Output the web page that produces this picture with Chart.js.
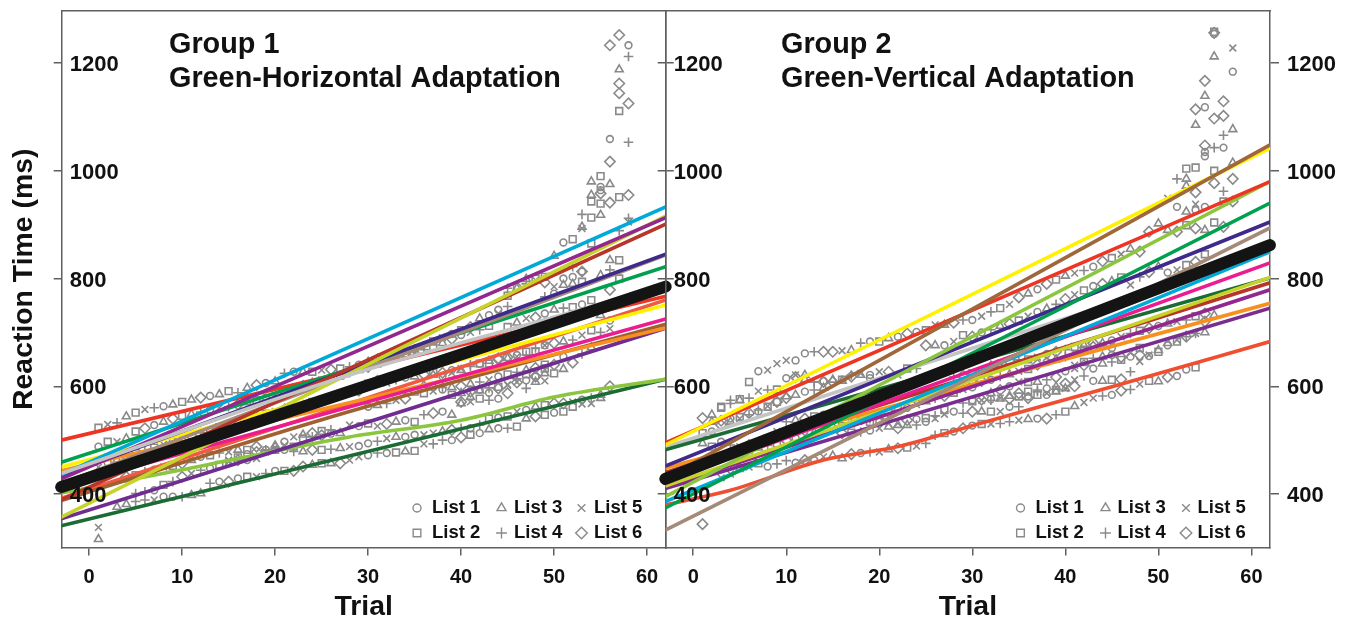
<!DOCTYPE html>
<html>
<head>
<meta charset="utf-8">
<title>Reaction time by trial</title>
<script src="https://cdn.jsdelivr.net/npm/chart.js@4/dist/chart.umd.js"></script>
<style>
  html, body { margin: 0; padding: 0; background: #fff; }
  #wrap { position: relative; width: 1350px; height: 621px; overflow: hidden; }
  canvas { position: absolute; top: 0; }
  #leftPanel { left: 0; }
  #rightPanel { left: 640px; }
</style>
</head>
<body>
<div id="wrap">
  <canvas id="leftPanel" width="690" height="621"></canvas>
  <canvas id="rightPanel" width="710" height="621"></canvas>
</div>
<script>
const xTickValues = [0, 10, 20, 30, 40, 50, 60];
const yTickValues = [400, 600, 800, 1000, 1200];
const listNames = ['List 1', 'List 2', 'List 3', 'List 4', 'List 5', 'List 6'];

// Group 1 fitted lines, [trial, rt]
const g1Black = [[-3, 413], [62, 785]];
const g1Blue = [[-3, 436], [62, 933]];
const g1YellowGreen = [[-3, 357], [62, 916]];
const g1Purple = [[-3, 428], [62, 913]];
const g1DarkRed = [[-3, 389], [62, 901]];
const g1Indigo = [[-3, 434], [62, 845]];
const g1Tan = [[-3, 419], [62, 844]];
const g1Green = [[-3, 459], [62, 822]];
const g1Grey = [[-3, 438], [28, 621], [54, 748], [62, 790]];
const g1Red = [[-3, 500], [62, 767]];
const g1OrangeRed = [[-3, 392], [62, 760]];
const g1Yellow = [[-3, 450], [62, 751]];
const g1Magenta = [[-3, 413], [62, 725]];
const g1Brown = [[-3, 388], [28, 553], [62, 715]];
const g1Orange = [[-3, 443], [62, 708]];
const g1LowPurple = [[-3, 354], [62, 708]];
const g1LightGreen = [[-3, 402], [10, 445], [28, 506], [40, 537], [50, 580], [62, 613]];
const g1DarkGreen = [[-3, 341], [62, 613]];

// Group 2 fitted lines
const g2Black = [[-3, 428], [62, 862]];
const g2Brown = [[-3, 429], [62, 1048]];
const g2Yellow = [[-3, 491], [62, 1042]];
const g2Red = [[-3, 495], [62, 980]];
const g2LightGreen = [[-3, 395], [62, 980]];
const g2Green = [[-3, 374], [62, 940]];
const g2Indigo = [[-3, 452], [62, 905]];
const g2Tan = [[-3, 333], [62, 894]];
const g2Grey = [[-3, 487], [31, 676], [62, 848]];
const g2Blue = [[-3, 386], [62, 850]];
const g2Magenta = [[-3, 423], [62, 829]];
const g2YellowGreen = [[-3, 415], [62, 802]];
const g2DarkGreen = [[-3, 482], [62, 801]];
const g2DarkRed = [[-3, 440], [62, 792]];
const g2Purple = [[-3, 414], [62, 779]];
const g2Orange = [[-3, 448], [62, 754]];
const g2LowPurple = [[-3, 410], [62, 745]];
const g2OrangeRed = [[-3, 380], [4, 407], [14, 463], [22, 488], [31, 532], [45, 599], [62, 683]];

const g1Fits = [
  [g1Grey, '#c4c4c4'], [g1Blue, '#00aad8'], [g1Purple, '#92278f'], [g1YellowGreen, '#c6d42a'],
  [g1DarkRed, '#b8352a'], [g1Indigo, '#3f2a8c'], [g1Tan, '#a68a78'], [g1Green, '#00a04e'],
  [g1Red, '#ee3524'], [g1Yellow, '#fff200'], [g1Magenta, '#ec1c8e'], [g1Orange, '#f7901e'],
  [g1LowPurple, '#6f2c91'], [g1Brown, '#a0602f'], [g1OrangeRed, '#f15a40'],
  [g1LightGreen, '#8cc63f'], [g1DarkGreen, '#1a6b34']
];
const g2Fits = [
  [g2Brown, '#a0673a'], [g2Yellow, '#fff200'], [g2Red, '#ee3524'], [g2LightGreen, '#8cc63f'],
  [g2Green, '#00a04e'], [g2Indigo, '#3f2a8c'], [g2Tan, '#a68a78'], [g2Blue, '#00aad8'],
  [g2Magenta, '#ec1c8e'], [g2YellowGreen, '#c6d42a'], [g2DarkGreen, '#1a6b34'], [g2DarkRed, '#b8352a'],
  [g2Purple, '#92278f'], [g2Orange, '#f7901e'], [g2LowPurple, '#7a2c91'], [g2OrangeRed, '#f04e30'],
  [g2Grey, '#c4c4c4']
];

// Marks read band by band. First value belongs to the trial in the Start array,
// the digit string gives the list of each mark.
const g1BandA = [376,381,386,389,389,395,395,395,398,401,420,423,423,429,432,432,438,443,443,443,451,454,457,457,457,463,469,472,476,476,477,479,480,493,493,500,500,505,510,513,520,522,522,525,540,544,547,551,553,562,567,568,578,600];
const g1BandALists = '334451143341612541266323655141232544162131423621225536';
const g1BandB = [401,404,407,417,423,432,438,444,448,454,460,463,463,466,478,482,482,479,479,482,482,483,485,488,489,494,498,503,506,506,510,510,513,516,519,522,522,528,540,542,544,553,556,562,565,568,568,571,575,578,584];
const g1BandBLists = '441246541256155214362435114531155364142125132665143';
const g1BandC = [432,435,441,445,450,452,457,463,469,472,476,478,482,482,488,482,488,490,488,503,506,509,512,513,528,526,531,526,530,534,537,534,547,550,553,547,568,571,577,574,577,587,608,596,608,633,640,655];
const g1BandCLists = '624152631245326135224613512563124613352416543261';
const g1BandD = [562,565,568,574,577,590,602,598,598,584,571,580,592,588,596,602,614,622,618,610,624,632,644,660,672,700,722];
const g1BandDLists = '134562314263316542152364341';
const g1BandE = [605,610,606,612,616,618,622,626,618,625,630,640,642,642,652,652,655,658,664,676,680,683,686,695,704,732,707];
const g1BandELists = '265413621534126354216345235';
const g1Upper = [523,529,532,544,551,557,560,563,566,571,575,579,582,585,591,588,597,602,606,609,624,627,627,627,630,631,633,636,640,645,650,652,655,660,662,668,672,680,688,695,700,705,712,742,768,782,790,797,803];
const g1UpperLists = '254325413236132436134132562413623154236154212345';
const g1Upper2 = [488,497,497,503,516,522,528,534,540,545,548,552,556,560,562,566,570,574,579,584,590,595,601,606,612,616,620,625,630,636,642,648,654,660,668,675,683,690,697,704,710,726,732,735,748];
const g1Upper2Lists = '125326136234154632152463512436215634251263154';
const g1Lower2 = [450,458,463,470,476,480,486,492,498,503,508,514,518,524,530,535,540,544,549,553,558,561,566,571,576,580,584,588,592];
const g1Lower2Lists = '51362425136412536125364251436';
const g1BandF = [621,625,630,633,637,642,647,650,654,658,664,671,676];
const g1BandFLists = '3615423661245';
const g1BandG = [587,591,594,598,600,604,608,612,618,622,626,630,634,640];
const g1BandGLists = '25136345124362';
const g1BandH = [587,590,594,597,599,603,607,611,618,624];
const g1BandHLists = '3614256163';
const g1BandI = [710,718,726,728,735,742,745,747];
const g1BandILists = '23561342';
const g1BandJ = [782,785,799,800,793,785,800,790];
const g1BandJLists = '41326513';
const g1BandK = [463,468,474,478,482,490,497,506,510,513,517,519];
const g1BandKLists = '521643153624';

const g1BandStarts = [3, 5, 4, 30, 30, 1, 1, 1, 37, 36, 40, 45, 45, 15];

const g1TailTrials = [57,56,58,58,57,57,57,58,57,56,58,56,55,54,56,55,55,54,55,54,55,56,57,58,53,54,55,58,58,57,53,53,51,52,54,50,52,53,53,56,57,56,55,57,52,53,51,50,56,49,54,53,1,1];
const g1TailRt = [1252,1233,1233,1212,1188,1162,1144,1125,1111,1059,1053,1017,990,980,975,970,964,955,958,943,939,941,951,955,919,913,918,912,905,889,896,893,867,873,865,842,822,813,813,834,834,816,806,800,803,794,788,772,779,766,760,752,338,316];
const g1TailLists = [6,6,1,4,3,6,6,6,2,1,4,6,2,3,3,1,1,3,6,2,2,6,2,6,4,2,3,4,5,4,3,5,1,2,2,3,4,1,6,3,2,4,3,2,1,2,3,1,6,4,2,1,5,3];

const g2BandL = [430,437,448,450,457,451,456,462,458,463,463,469,471,466,474,476,478,478,483,485,486,489,494,509,513,516,522,527,530,530,531,534,537,539,540,540,547,553,563,570,578,582,584,592,594,604,610,609,617,619,631,635];
const g2BandLLists = '552521441615336145362544216125445316423554164523611236';
const g2BandL2 = [494,488,497,491,488,491,494,503,516,534,537,540,544,547,547,547,544,537,534,534,531,522,528,528,534,540,556,553,550,553,553,553,553,562,562,578,584,584,590,596,600,619,610,610,612,613,627,646,656,664,680,686,692,698,700];
const g2BandL2Lists = '321456125436216345215634152146325146213564132645123564';
const g2BandL3 = [574,574,574,577,577,581,581,590,587,593,596,633,639,633,642,645,649,655,658,658,667,676,683,692,698,720,732];
const g2BandL3Lists = '154362145235613421653124563';
const g2BandL4 = [605,610,612,618,622,628,632,640,645,650,655,662,668,673,680,685,692,698,703,708,712,716,720,723,730,735];
const g2BandL4Lists = '26143526134526315426135426';
const g2Upper = [560,568,574,608,628,630,642,648,648,661,664,664,664,666,667,680,683,683,689,692,698,701,704,714,714,718,723,723,730,738,745,752,765,772,780,790,798,805,810,815,822,832,838,845,855,850];
const g2UpperLists = '243215551146653412316125364154256316235416253651';
const g2Upper2 = [513,516,528,534,540,547,553,562,571,615,621,612,608,608,612,612,618,621,621,627,627,621,633,633,676,676,676,683,695,692,700,705,712,716,722,730,738,744,752,762,770,778,786,790,795,802,788,803,812,822,811,816,825,831,845];
const g2Upper2Lists = '216354126153463263156524631526143625134652163254631526';
const g2Upper3 = [541,547,562,574,576,578,591,593,594,581,617,621,608,610,608,610,621,624,615];
const g2Upper3Lists = '6324245423634163451';
const g2Mid = [470,480,486,490,494,500,504,508,514,518,522,526,530,536,540,545,552,556,560,566,572,578,582,588,594,598];
const g2MidLists = '15342615346251436215346251';
const g2BandM = [617,620,624,630,638,643,646,649,650,654,660,664,668,673,676,680,676,671];
const g2BandMLists = '462135642516423651';
const g2BandN = [587,593,600,608,608,608,612,617,628,639,645,652,655,658,654,662,671];
const g2BandNLists = '36152346152431652';
const g2BandO = [569,572,575,576,578,582,587,590,593,596,599,605,612];
const g2BandOLists = '4261536241365';
const g2BandP = [534,536,540,543,550,556,563,571,578,584,590,593,597];
const g2BandPLists = '3612645263143';
const g2BandQ = [513,514,515,518,522,525,528,537,539,541,545,548];
const g2BandQLists = '624153361245';

const g2BandStarts = [3, 1, 30, 30, 3, 1, 1, 5, 28, 32, 29, 2, 16];

const g2TailTrials = [56,56,56,58,56,58,55,55,57,55,54,56,57,54,57,58,55,56,57,55,55,53,54,58,56,52,53,56,58,53,54,57,51,52,54,55,58,57,53,54,56,50,49,51,53,52,54,57,55,1];
const g2TailRt = [1256,1254,1258,1228,1212,1184,1167,1139,1129,1118,1114,1097,1102,1085,1066,1077,1047,1043,1043,1035,1027,1004,1006,1015,1000,985,985,977,985,972,960,962,949,933,938,933,943,943,924,927,904,902,887,890,899,887,893,896,890,344];
const g2TailLists = [6,1,2,5,3,1,6,3,6,1,6,6,6,3,4,3,6,4,1,1,1,2,2,3,2,4,3,6,6,3,6,4,5,1,5,1,6,2,3,1,2,3,6,3,2,6,6,6,3,6];

const pointStyles = ['circle', 'rect', 'triangle', 'cross', 'crossRot', 'rectRot'];
const pointSizes = [3.4, 4.8, 4.6, 4.8, 4.8, 5.2];
const markColor = '#8a8a8a';

function markDatasets(bands, starts, lists, tailTrials, tailRt, tailLists) {
  const byList = listNames.map(() => []);
  bands.forEach((band, b) => {
    band.forEach((rt, i) => {
      const list = Number(lists[b][i % lists[b].length]) - 1;
      byList[list].push({ x: starts[b] + i, y: rt });
    });
  });
  tailTrials.forEach((t, i) => byList[tailLists[i] - 1].push({ x: t, y: tailRt[i] }));
  return byList.map((pts, i) => ({
    label: listNames[i],
    data: pts,
    showLine: false,
    pointStyle: pointStyles[i],
    pointRadius: pointSizes[i],
    pointBorderColor: markColor,
    pointBackgroundColor: 'rgba(0,0,0,0)',
    pointBorderWidth: 1.6
  }));
}

function lineDataset(pts, color, width) {
  return {
    data: pts.map(p => ({ x: p[0], y: p[1] })),
    borderColor: color,
    borderWidth: width,
    borderCapStyle: 'round',
    pointRadius: 0,
    cubicInterpolationMode: pts.length > 2 ? 'monotone' : 'default',
    clip: width > 5 ? false : undefined
  };
}

// draws the group title and the marker key inside the plot
const panelText = {
  id: 'panelText',
  afterDatasetsDraw(chart, args, opts) {
    const ctx = chart.ctx;
    ctx.save();
    ctx.fillStyle = '#111';
    ctx.textBaseline = 'alphabetic';
    ctx.textAlign = 'left';
    ctx.font = 'bold 28.8px "Liberation Sans"';
    ctx.fillText(opts.title[0], opts.titleX, 53);
    ctx.fillText(opts.title[1], opts.titleX, 87);
    ctx.font = 'bold 18.5px "Liberation Sans"';
    listNames.forEach((name, i) => {
      const col = Math.floor(i / 2);
      const y = i % 2 === 0 ? 508 : 533;
      ctx.textBaseline = 'middle';
      ctx.fillStyle = '#111';
      ctx.fillText(name, opts.textX[col], y);
      ctx.lineWidth = 1.4;
      ctx.strokeStyle = markColor;
      ctx.fillStyle = 'rgba(0,0,0,0)';
      Chart.helpers.drawPoint(ctx, {
        pointStyle: pointStyles[i],
        radius: pointSizes[i] + 0.6,
        borderWidth: 1.4,
        borderColor: markColor,
        backgroundColor: 'rgba(0,0,0,0)'
      }, opts.markX[col], y);
    });
    ctx.restore();
  }
};

const frameColor = '#5f5f5f';
const tickFont = { family: '"Liberation Sans"', weight: 'bold', size: 22 };
const titleFont = { family: '"Liberation Sans"', weight: 'bold', size: 28.4, lineHeight: 1 };
const tickText = v => String(v);

function yAxisBase(position, width, tickLength) {
  return {
    type: 'linear',
    position: position,
    min: 300.7,
    max: 1296.6,
    afterBuildTicks: s => { s.ticks = yTickValues.map(v => ({ value: v })); },
    afterFit: s => { s.width = width; s.paddingTop = 0; s.paddingBottom = 0; },
    border: { color: frameColor, width: 1.5 },
    grid: { drawOnChartArea: false, color: frameColor, lineWidth: 1.5, tickLength: tickLength }
  };
}

function makePanel(id, cfg) {
  const scales = {
    x: {
      type: 'linear',
      min: cfg.xMin,
      max: cfg.xMax,
      afterBuildTicks: s => { s.ticks = xTickValues.map(v => ({ value: v })); },
      afterFit: s => { s.height = 73.5; },
      border: { color: frameColor, width: 1.5 },
      grid: { drawOnChartArea: false, color: frameColor, lineWidth: 1.5, tickLength: 8 },
      ticks: { color: '#111', font: { family: '"Liberation Sans"', weight: 'bold', size: 20 }, maxRotation: 0, padding: 10, callback: tickText },
      title: { display: true, text: 'Trial', color: '#111', font: titleFont, padding: { top: 1, bottom: 0 } }
    },
    xTop: {
      type: 'linear',
      position: 'top',
      min: cfg.xMin,
      max: cfg.xMax,
      afterBuildTicks: s => { s.ticks = []; },
      afterFit: s => { s.height = 0; },
      border: { color: frameColor, width: 1.5 },
      grid: { display: false, drawTicks: false },
      ticks: { display: false }
    },
    y: Object.assign(yAxisBase('left', cfg.leftWidth, 8), {
      ticks: { mirror: true, z: 1, color: '#111', font: tickFont, padding: 8, labelOffset: 2, callback: tickText }
    }),
    yRight: Object.assign(yAxisBase('right', cfg.rightWidth, cfg.rightTick), {
      ticks: cfg.rightLabels
        ? { color: '#111', font: tickFont, padding: 8, labelOffset: 2, callback: tickText }
        : { display: false }
    })
  };
  if (cfg.yTitle) {
    scales.y.title = { display: true, text: cfg.yTitle, color: '#111', font: titleFont, padding: { top: 10, bottom: 0 } };
  }
  return new Chart(document.getElementById(id), {
    type: 'line',
    data: { datasets: cfg.datasets },
    options: {
      responsive: false,
      animation: false,
      events: [],
      layout: { padding: { top: 11, left: 0, right: cfg.rightPad, bottom: 0 } },
      plugins: {
        legend: { display: false },
        tooltip: { enabled: false },
        panelText: cfg.text
      },
      scales: scales
    },
    plugins: [panelText]
  });
}

makePanel('leftPanel', {
  xMin: -2.95,
  xMax: 62,
  leftWidth: 61.7,
  rightWidth: 8,
  rightTick: 8,
  rightPad: 16.3,
  rightLabels: false,
  yTitle: 'Reaction Time (ms)',
  text: {
    title: ['Group 1', 'Green-Horizontal Adaptation'],
    titleX: 169,
    markX: [417, 501.5, 581.5],
    textX: [432, 514, 594]
  },
  datasets: [lineDataset(g1Black, '#141414', 12)]
    .concat(g1Fits.map(f => lineDataset(f[0], f[1], 3.6)))
    .concat(markDatasets(
      [g1BandA, g1BandB, g1BandC, g1BandD, g1BandE, g1Upper, g1Upper2, g1Lower2, g1BandF, g1BandG, g1BandH, g1BandI, g1BandJ, g1BandK],
      g1BandStarts,
      [g1BandALists, g1BandBLists, g1BandCLists, g1BandDLists, g1BandELists, g1UpperLists, g1Upper2Lists, g1Lower2Lists, g1BandFLists, g1BandGLists, g1BandHLists, g1BandILists, g1BandJLists, g1BandKLists],
      g1TailTrials, g1TailRt, g1TailLists))
});

makePanel('rightPanel', {
  xMin: -2.96,
  xMax: 62,
  leftWidth: 25.7,
  rightWidth: 80,
  rightTick: 9,
  rightPad: 0,
  rightLabels: true,
  text: {
    title: ['Group 2', 'Green-Vertical Adaptation'],
    titleX: 141,
    markX: [380.5, 465.5, 546],
    textX: [395.5, 477.5, 557.5]
  },
  datasets: [lineDataset(g2Black, '#141414', 12)]
    .concat(g2Fits.map(f => lineDataset(f[0], f[1], 3.6)))
    .concat(markDatasets(
      [g2BandL, g2BandL2, g2BandL3, g2BandL4, g2Upper, g2Upper2, g2Upper3, g2Mid, g2BandM, g2BandN, g2BandO, g2BandP, g2BandQ],
      g2BandStarts,
      [g2BandLLists, g2BandL2Lists, g2BandL3Lists, g2BandL4Lists, g2UpperLists, g2Upper2Lists, g2Upper3Lists, g2MidLists, g2BandMLists, g2BandNLists, g2BandOLists, g2BandPLists, g2BandQLists],
      g2TailTrials, g2TailRt, g2TailLists))
});
</script>
</body>
</html>
